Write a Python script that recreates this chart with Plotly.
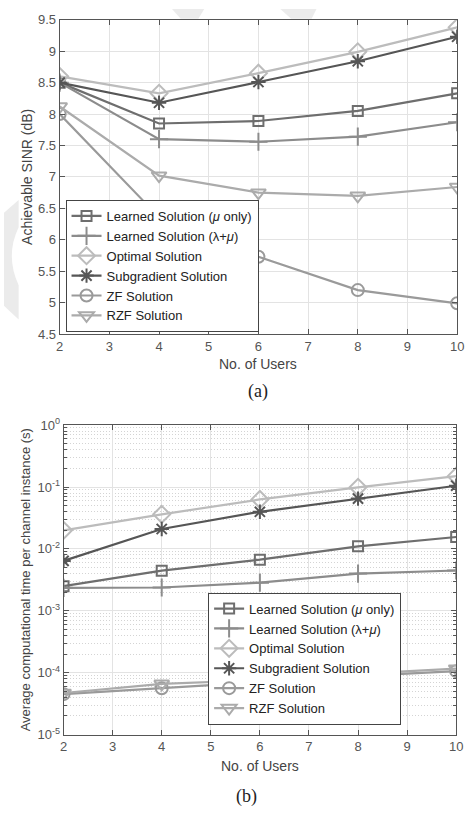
import plotly.graph_objects as go

users = [2, 4, 6, 8, 10]
series_names = ["Learned Solution (<i>μ</i> only)", "Learned Solution (λ+<i>μ</i>)",
                "Optimal Solution", "Subgradient Solution", "ZF Solution", "RZF Solution"]

# (a) Achievable SINR (dB)
sinr_learned_mu = [8.50, 7.85, 7.89, 8.05, 8.33]
sinr_learned_lm = [8.50, 7.60, 7.56, 7.64, 7.87]
sinr_optimal = [8.60, 8.33, 8.65, 8.99, 9.38]
sinr_subgrad = [8.50, 8.18, 8.51, 8.84, 9.23]
sinr_zf = [8.00, 6.36, 5.73, 5.20, 4.99]
sinr_rzf = [8.12, 7.02, 6.75, 6.70, 6.84]

# (b) Average computational time per channel instance (s)
time_learned_mu = [0.00250, 0.00445, 0.0067, 0.0110, 0.0156]
time_learned_lm = [0.00235, 0.00238, 0.00285, 0.0040, 0.00448]
time_optimal = [0.0200, 0.0362, 0.0630, 0.0990, 0.150]
time_subgrad = [0.0064, 0.0210, 0.0398, 0.0650, 0.105]
time_zf = [4.5e-5, 5.6e-5, 7.0e-5, 8.8e-5, 1.06e-4]
time_rzf = [4.7e-5, 6.6e-5, 7.6e-5, 9.6e-5, 1.16e-4]

top_yticks = [4.5, 5, 5.5, 6, 6.5, 7, 7.5, 8, 8.5, 9, 9.5]
top_yticktext = ["4.5", "5", "5.5", "6", "6.5", "7", "7.5", "8", "8.5", "9", "9.5"]
x_ticks = [2, 3, 4, 5, 6, 7, 8, 9, 10]
log_ticks = [1e-5, 1e-4, 1e-3, 1e-2, 1e-1, 1]
log_ticktext = ["10<sup>-5</sup>", "10<sup>-4</sup>", "10<sup>-3</sup>",
                "10<sup>-2</sup>", "10<sup>-1</sup>", "10<sup>0</sup>"]
log_minor = [k * 10.0 ** e for e in range(-5, 0) for k in range(2, 10)]

colors = ["#6e6e6e", "#8c8c8c", "#bcbcbc", "#565656", "#9a9a9a", "#ababab"]
symbols = ["square-open", "cross-thin-open", "diamond-open", "asterisk-open",
           "circle-open", "triangle-down-open"]
msizes = [10, 13, 13, 12, 12, 13]

W, H = 471, 817
FONT = "Liberation Sans, Arial, sans-serif"

fig = go.Figure()

top_data = [sinr_learned_mu, sinr_learned_lm, sinr_optimal, sinr_subgrad, sinr_zf, sinr_rzf]
bot_data = [time_learned_mu, time_learned_lm, time_optimal, time_subgrad, time_zf, time_rzf]

for i, ys in enumerate(top_data):
    fig.add_trace(go.Scatter(
        x=users, y=ys, name=series_names[i], mode="lines+markers",
        line=dict(color=colors[i], width=2.2),
        marker=dict(symbol=symbols[i], size=msizes[i], color=colors[i],
                    line=dict(color=colors[i], width=2)),
        xaxis="x", yaxis="y", legend="legend"))

for i, ys in enumerate(bot_data):
    fig.add_trace(go.Scatter(
        x=users, y=ys, name=series_names[i], mode="lines+markers",
        line=dict(color=colors[i], width=2.2),
        marker=dict(symbol=symbols[i], size=msizes[i], color=colors[i],
                    line=dict(color=colors[i], width=2)),
        xaxis="x2", yaxis="y2", legend="legend2"))

axis_common = dict(showline=True, linecolor="#555555", linewidth=1, mirror="ticks",
                   ticks="inside", ticklen=5, tickcolor="#555555",
                   showgrid=True, gridcolor="#e3e3e3", gridwidth=1, zeroline=False,
                   tickfont=dict(family=FONT, size=13, color="#555555"))

fig.update_layout(
    width=W, height=H, margin=dict(l=0, r=0, t=0, b=0),
    paper_bgcolor="white", plot_bgcolor="white",
    showlegend=True,
    xaxis=dict(domain=[57 / W, 464 / W], range=[2, 10], tickvals=x_ticks, anchor="y",
               **axis_common),
    yaxis=dict(domain=[1 - 332 / H, 1 - 11 / H], range=[4.5, 9.5], tickvals=top_yticks,
               ticktext=top_yticktext, anchor="x", **axis_common),
    xaxis2=dict(domain=[61 / W, 463 / W], range=[2, 10], tickvals=x_ticks, anchor="y2",
                **axis_common),
    yaxis2=dict(domain=[1 - 741 / H, 1 - 425 / H], type="log", range=[-5, 0],
                tickvals=log_ticks, ticktext=log_ticktext, anchor="x2",
                minor=dict(tickmode="array", tickvals=log_minor, ticks="inside", ticklen=3,
                           tickcolor="#555555", showgrid=True, gridcolor="#d4d4d4",
                           griddash="1px,2px", gridwidth=1),
                **axis_common),
    legend=dict(x=63 / W, y=1 - 195 / H, xanchor="left", yanchor="top",
                bgcolor="white", bordercolor="#444444", borderwidth=1,
                font=dict(family=FONT, size=13, color="#222222"),
                tracegroupgap=0, itemwidth=30),
    legend2=dict(x=209 / W, y=1 - 596 / H, xanchor="left", yanchor="top",
                 bgcolor="white", bordercolor="#444444", borderwidth=1,
                 font=dict(family=FONT, size=13, color="#222222"),
                 tracegroupgap=0, itemwidth=30),
)

# axis titles and panel labels
ann = [
    dict(text="No. of Users", x=260 / W, y=1 - 363 / H, font=dict(size=14, color="#444444")),
    dict(text="Achievable SINR (dB)", x=24 / W, y=1 - 171 / H, textangle=-90,
         font=dict(size=14, color="#444444")),
    dict(text="No. of Users", x=262 / W, y=1 - 773 / H, font=dict(size=14, color="#444444")),
    dict(text="Average computational time per channel instance (s)", x=22 / W,
         y=1 - 583 / H, textangle=-90, font=dict(size=13, color="#444444")),
    dict(text="(a)", x=260 / W, y=1 - 391 / H,
         font=dict(family="Liberation Serif, Times New Roman, serif", size=18, color="#222222")),
    dict(text="(b)", x=248 / W, y=1 - 804 / H,
         font=dict(family="Liberation Serif, Times New Roman, serif", size=18, color="#222222")),
]
for a in ann:
    a.setdefault("font", {})
    a["font"].setdefault("family", FONT)
    fig.add_annotation(xref="paper", yref="paper", showarrow=False,
                       xanchor="center", yanchor="middle", **a)

# faint watermark fragments
def px_path(points):
    return "M " + " L ".join(f"{x / W},{1 - y / H}" for x, y in points) + " Z"

wm = "#ebebeb"
fig.add_shape(type="path", xref="paper", yref="paper", layer="below", line_width=0,
              fillcolor=wm,
              path=f"M 0,{1 - 208 / H} L {15 / W},{1 - 195 / H} L {15 / W},{1 - 223 / H} "
                   f"Q {1 / W},{1 - 252 / H} {15 / W},{1 - 282 / H} L {15 / W},{1 - 317 / H} "
                   f"L 0,{1 - 303 / H} Z")
fig.add_shape(type="path", xref="paper", yref="paper", layer="below", line_width=0,
              fillcolor=wm, path=px_path([(172, 0), (205, 0), (199, 10), (181, 10)]))
fig.add_shape(type="path", xref="paper", yref="paper", layer="below", line_width=0,
              fillcolor=wm, path=px_path([(283, 0), (320, 0), (315, 10), (294, 10)]))

fig.write_html("out.html")
